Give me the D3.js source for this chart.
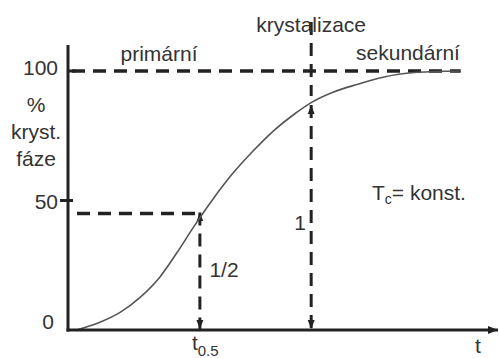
<!DOCTYPE html>
<html>
<head>
<meta charset="utf-8">
<script src="https://cdn.jsdelivr.net/npm/d3@7"></script>
<style>
  body { margin: 0; background: #fff; }
  text { font-family: "Liberation Sans", Arial, sans-serif; fill: #333; }
</style>
</head>
<body>
<svg id="chart" width="499" height="358"></svg>
<script>
// crystallization curve, time in arbitrary units, crystalline fraction in %
const timeValues = [0.2, 0.76, 1.24, 1.71, 2.19, 2.6, 3.0, 3.45, 3.9, 4.4, 4.9, 5.4, 5.81, 6.31, 6.88, 7.5, 8.31, 9.33];
const crystValues = [0, 3.0, 6.8, 12.5, 20.5, 30, 40, 50.5, 60, 69, 77, 83.5, 88, 91.8, 94.8, 97.6, 99.5, 100];
const yTicks = [0, 50, 100];
const yTickLabels = ["0", "50", "100"];
const yTitle = ["%", "kryst.", "fáze"];

const tHalf = 3.14;
const halfLevel = 45;
const tMark = 5.79;
const markLevel = 88;
const fullLevel = 100;

const svg = d3.select("#chart");
const x = d3.scaleLinear().domain([0, 10]).range([68, 488]);
const y = d3.scaleLinear().domain([0, 100]).range([330, 71]);

const defs = svg.append("defs");
defs.append("marker")
  .attr("id", "arrow")
  .attr("viewBox", "0 -4 9 8")
  .attr("refX", 9)
  .attr("refY", 0)
  .attr("markerUnits", "userSpaceOnUse")
  .attr("markerWidth", 9)
  .attr("markerHeight", 8)
  .attr("orient", "auto-start-reverse")
  .append("path")
  .attr("d", "M0,-3.5L9,0L0,3.5Z")
  .attr("fill", "#222");

defs.append("marker")
  .attr("id", "axisArrow")
  .attr("viewBox", "0 -5 10 10")
  .attr("refX", 10)
  .attr("refY", 0)
  .attr("markerUnits", "userSpaceOnUse")
  .attr("markerWidth", 10)
  .attr("markerHeight", 10)
  .attr("orient", "auto")
  .append("path")
  .attr("d", "M0,-4L10,0L0,4Z")
  .attr("fill", "#222");

const dash = "13,8";

// dashed guides
svg.append("line")
  .attr("x1", x(0) + 4).attr("x2", x(9.35))
  .attr("y1", y(fullLevel)).attr("y2", y(fullLevel))
  .attr("stroke", "#222").attr("stroke-width", 3.5)
  .attr("stroke-dasharray", dash);

svg.append("line")
  .attr("x1", x(0) + 9).attr("x2", x(tHalf))
  .attr("y1", y(halfLevel)).attr("y2", y(halfLevel))
  .attr("stroke", "#222").attr("stroke-width", 3.5)
  .attr("stroke-dasharray", dash);

svg.append("line")
  .attr("x1", x(tHalf)).attr("x2", x(tHalf))
  .attr("y1", y(halfLevel) - 1).attr("y2", y(0) - 1)
  .attr("stroke", "#222").attr("stroke-width", 3)
  .attr("stroke-dasharray", dash)
  .attr("marker-start", "url(#arrow)")
  .attr("marker-end", "url(#arrow)");

svg.append("line")
  .attr("x1", x(tMark)).attr("x2", x(tMark))
  .attr("y1", 22).attr("y2", y(markLevel) - 6)
  .attr("stroke", "#222").attr("stroke-width", 3)
  .attr("stroke-dasharray", dash);

svg.append("line")
  .attr("x1", x(tMark)).attr("x2", x(tMark))
  .attr("y1", y(markLevel) + 3).attr("y2", y(0) - 1)
  .attr("stroke", "#222").attr("stroke-width", 3)
  .attr("stroke-dasharray", dash)
  .attr("marker-start", "url(#arrow)")
  .attr("marker-end", "url(#arrow)");

// curve
const line = d3.line()
  .x((d, i) => x(timeValues[i]))
  .y((d) => y(d))
  .curve(d3.curveMonotoneX);

svg.append("path")
  .datum(crystValues)
  .attr("d", line)
  .attr("fill", "none")
  .attr("stroke", "#555")
  .attr("stroke-width", 1.6);

// axes
svg.append("line")
  .attr("x1", x(0)).attr("x2", x(0))
  .attr("y1", y(110)).attr("y2", y(0) + 1.5)
  .attr("stroke", "#222").attr("stroke-width", 3);

svg.append("line")
  .attr("x1", x(0) - 1.5).attr("x2", 498)
  .attr("y1", y(0)).attr("y2", y(0))
  .attr("stroke", "#222").attr("stroke-width", 3)
  .attr("marker-end", "url(#axisArrow)");

svg.append("line")
  .attr("x1", x(0)).attr("x2", x(0) + 8)
  .attr("y1", y(100)).attr("y2", y(100))
  .attr("stroke", "#222").attr("stroke-width", 3);

svg.append("line")
  .attr("x1", x(0) - 8).attr("x2", x(0) + 5)
  .attr("y1", y(50)).attr("y2", y(50))
  .attr("stroke", "#222").attr("stroke-width", 3);

svg.selectAll(".ytick")
  .data(yTicks)
  .enter()
  .append("text")
  .attr("class", "ytick")
  .attr("x", (d) => (d === 0 ? x(0) - 14 : x(0) - 10))
  .attr("y", (d) => y(d) + (d === 0 ? -1 : d === 50 ? 8 : 4))
  .attr("text-anchor", "end")
  .attr("font-size", 21)
  .text((d, i) => yTickLabels[i]);

svg.selectAll(".ytitle")
  .data(yTitle)
  .enter()
  .append("text")
  .attr("class", "ytitle")
  .attr("x", 36)
  .attr("y", (d, i) => 112 + i * 27)
  .attr("text-anchor", "middle")
  .attr("font-size", 21)
  .text((d) => d);

// annotations
const label = (tx, ty, str, anchor) =>
  svg.append("text")
    .attr("x", tx).attr("y", ty)
    .attr("text-anchor", anchor || "start")
    .attr("font-size", 21)
    .text(str);

label(x(tMark), 32, "krystalizace", "middle");
label(159, 61, "primární", "middle");
label(408, 60, "sekundární", "middle");
label(224, 277, "1/2", "middle");
label(x(tMark) - 11, 230, "1", "middle");
label(478, 353, "t", "middle");

const tc = svg.append("text").attr("x", 372).attr("y", 200).attr("font-size", 21);
tc.append("tspan").text("T");
tc.append("tspan").attr("font-size", 14).attr("dy", 4).text("c");
tc.append("tspan").attr("dy", -4).text("= konst.");

const th = svg.append("text").attr("x", x(tHalf) - 8).attr("y", 350).attr("font-size", 21);
th.append("tspan").text("t");
th.append("tspan").attr("font-size", 15).attr("dy", 6).text("0.5");
</script>
</body>
</html>
